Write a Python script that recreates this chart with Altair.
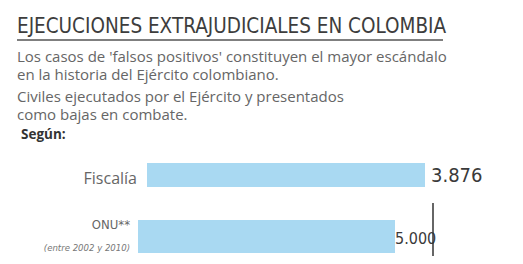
import altair as alt
import pandas as pd

# ---- data ----
sources = ["Fiscalía", "ONU**"]
values = [3876, 5000]
value_labels = ["3.876", "5.000"]
notes = ["", "(entre 2002 y 2010)"]

title_text = "EJECUCIONES EXTRAJUDICIALES EN COLOMBIA"
intro_lines = [
    "Los casos de 'falsos positivos' constituyen el mayor escándalo",
    "en la historia del Ejército colombiano.",
]
desc_lines = [
    "Civiles ejecutados por el Ejército y presentados",
    "como bajas en combate.",
]
segun_text = "Según:"

BAR = "#a9d9f2"
COND = "DejaVu Sans Condensed, Roboto"
BODY = "Open Sans"
one = pd.DataFrame({"k": [0]})


def txt(text, x, y, size, color="#666666", font=BODY, weight="normal",
        align="left", style="normal", line_height=18):
    return alt.Chart(one).mark_text(
        text=text, font=font, fontSize=size, fontWeight=weight, color=color,
        align=align, baseline="alphabetic", fontStyle=style, lineHeight=line_height
    ).encode(x=alt.value(x), y=alt.value(y))


header = [txt(title_text, 9, 25, 20.5, "#3d3d3d", COND)]
header.append(
    alt.Chart(one).mark_rule(color="#555555", strokeWidth=1.5).encode(
        x=alt.value(9), x2=alt.value(435), y=alt.value(32)
    )
)
header.append(txt(intro_lines, 9, 54, 15))
header.append(txt(desc_lines, 9, 94, 15))
header.append(txt(segun_text, 13, 131, 13.5, "#333333", BODY, "bold"))

# ---- bars ----
df1 = pd.DataFrame({"source": [sources[0]], "value": [values[0]], "label": [value_labels[0]]})
df2 = pd.DataFrame({"source": [sources[1]], "value": [values[1]], "label": [value_labels[1]],
                    "note": [notes[1]]})

x1 = alt.X("value:Q", scale=alt.Scale(domain=[0, values[0]], range=[139, 417]), axis=None)
x2 = alt.X("value:Q", scale=alt.Scale(domain=[0, values[1]], range=[130, 387]), axis=None)

bar1 = alt.Chart(df1).mark_rect(color=BAR).encode(
    x=x1, x2=alt.datum(0), y=alt.value(155), y2=alt.value(179))
val1 = alt.Chart(df1).mark_text(align="left", baseline="alphabetic", dx=6,
                                font=COND, fontSize=20,
                                color="#3a3a3a").encode(x=x1, y=alt.value(174), text="label:N")
lab1 = alt.Chart(df1).mark_text(align="right", baseline="alphabetic", font=BODY,
                                fontSize=16, color="#666666").encode(
    x=alt.value(129), y=alt.value(176), text="source:N")

bar2 = alt.Chart(df2).mark_rect(color=BAR).encode(
    x=x2, x2=alt.datum(0), y=alt.value(212), y2=alt.value(245))
val2 = alt.Chart(df2).mark_text(align="left", baseline="alphabetic", dx=0,
                                font=COND, fontSize=16,
                                color="#3a3a3a").encode(x=x2, y=alt.value(236), text="label:N")
lab2 = alt.Chart(df2).mark_text(align="right", baseline="alphabetic",
                                font=COND, fontSize=13,
                                color="#666666").encode(
    x=alt.value(122), y=alt.value(221), text="source:N")
note2 = alt.Chart(df2).mark_text(align="right", baseline="alphabetic",
                                 font=COND, fontSize=9.5,
                                 fontStyle="italic", color="#777777").encode(
    x=alt.value(122), y=alt.value(243), text="note:N")
vline = alt.Chart(one).mark_rule(color="#333333", strokeWidth=1.5).encode(
    x=alt.value(425), y=alt.value(195), y2=alt.value(256))

chart = alt.layer(
    *header, bar1, val1, lab1, bar2, val2, lab2, note2, vline
).resolve_scale(x="independent").properties(
    width=507, height=248, padding=0, autosize=alt.AutoSizeParams(type="none")
).configure_view(stroke=None)

chart.save("out.html", embed_options={"renderer": "svg", "actions": False})
